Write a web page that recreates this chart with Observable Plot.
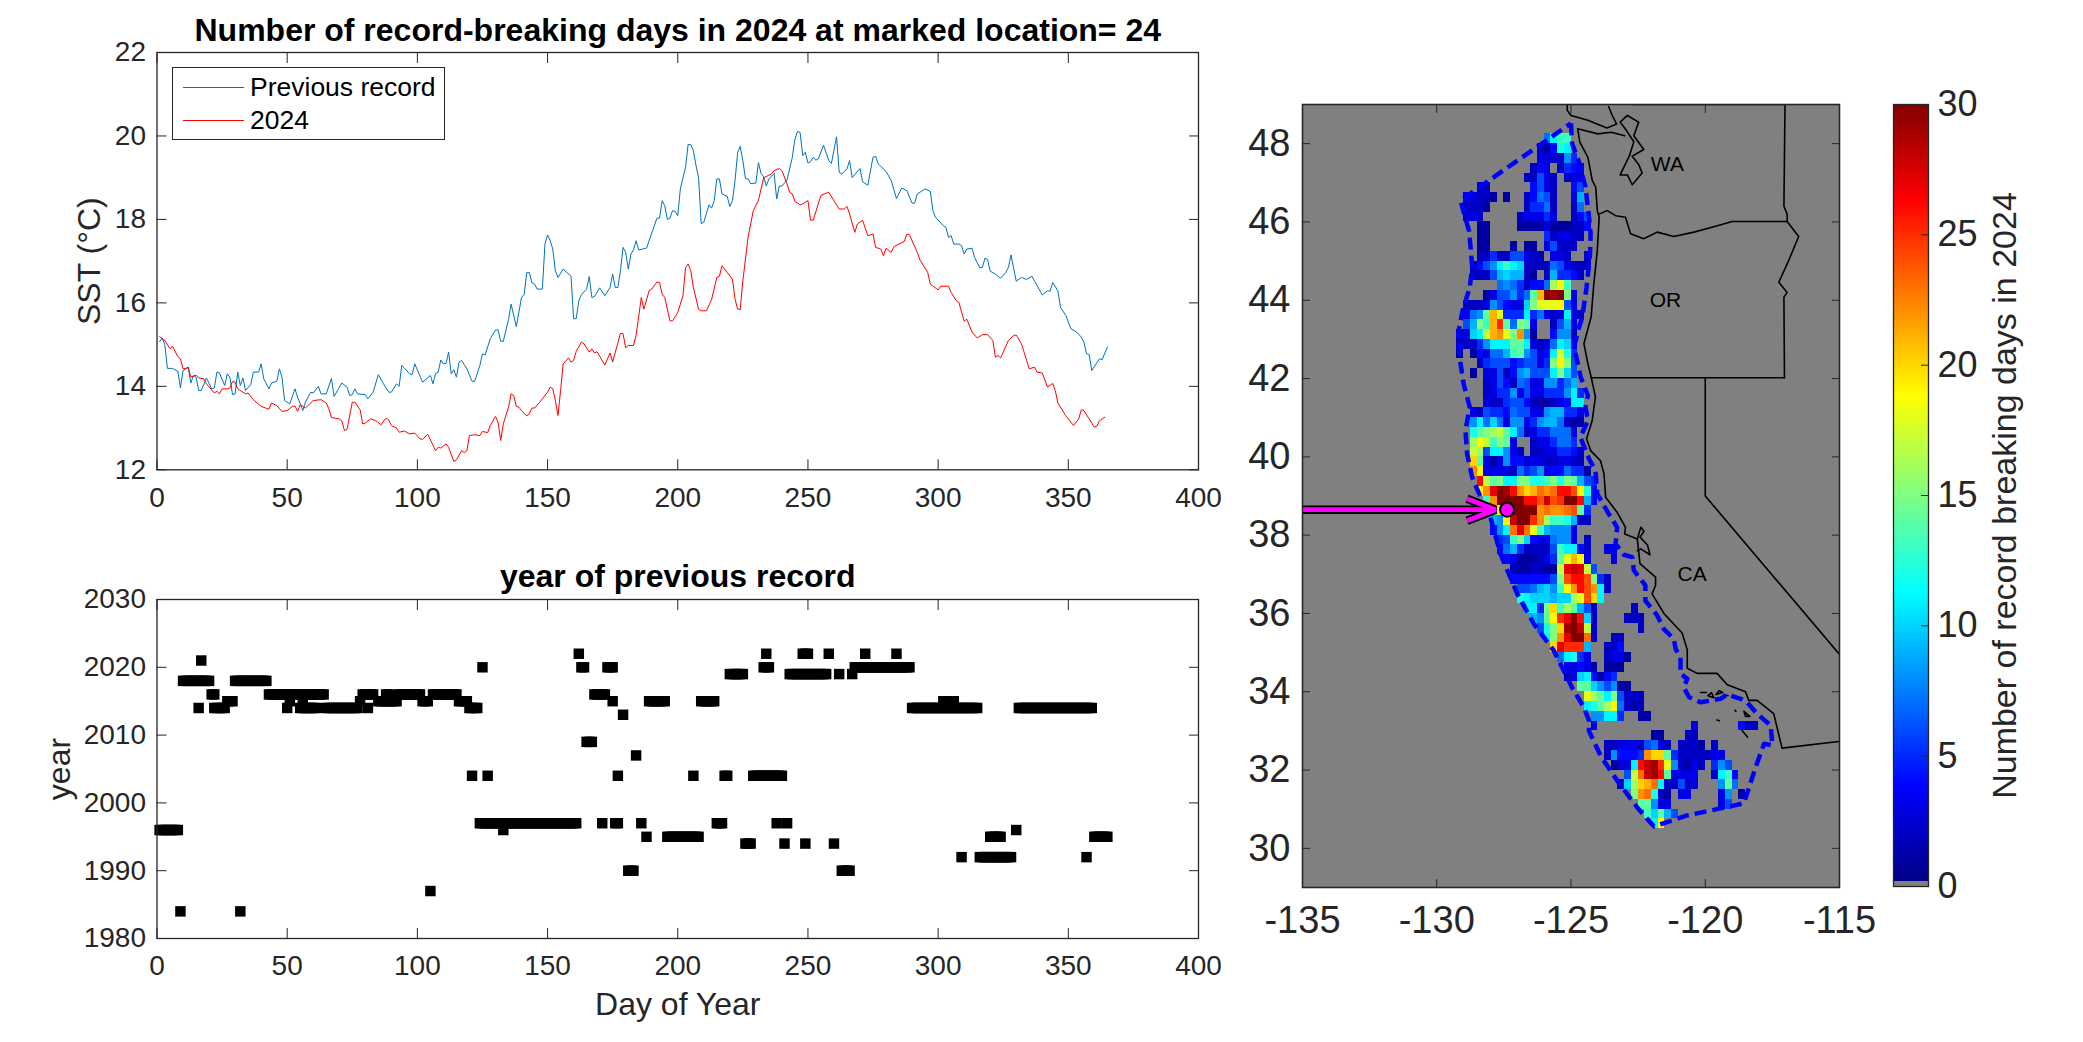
<!DOCTYPE html>
<html><head><meta charset="utf-8">
<script src="https://cdn.jsdelivr.net/npm/d3@7"></script>
<script src="https://cdn.jsdelivr.net/npm/@observablehq/plot@0.6"></script>
<style>
html,body{margin:0;padding:0;background:#fff;width:2083px;height:1042px;overflow:hidden;font-family:"Liberation Sans",sans-serif}
.p{position:absolute}
.p svg{overflow:visible;display:block}
#legend{position:absolute;left:172px;top:67px;width:271px;height:71px;border:1.3px solid #262626;background:#fff;font-size:26.5px;color:#000}
#legend .row{position:absolute;left:0;height:30px;line-height:30px}
#legend i{position:absolute;left:10px;width:61px;height:1px;top:15px}
#legend span{position:absolute;left:77px;white-space:nowrap}
</style></head><body>
<div id="top" class="p" style="left:0;top:0"></div>
<div id="bot" class="p" style="left:0;top:560px"></div>
<div id="map" class="p" style="left:1240px;top:70px"></div>
<div id="bar" class="p" style="left:1860px;top:90px"></div>
<div id="legend">
 <div class="row" style="top:4px"><i style="background:#0072bd"></i><span>Previous record</span></div>
 <div class="row" style="top:37px"><i style="background:#ff0000"></i><span>2024</span></div>
</div>
<script>
const titleTop="Number of record-breaking days in 2024 at marked location= 24";
const titleBot="year of previous record";
const barLabel="Number of record breaking days in 2024";

// [day, SST]
const previousRecord=[[1,15.07],[2,15.16],[3,15.0],[4,14.43],[6,14.43],[8,14.36],[9,13.96],[10,14.38],[12,14.45],[13,14.08],[14,14.26],[15,14.22],[16,13.9],[17,13.9],[19,14.2],[21,13.94],[22,13.96],[23,14.34],[24,14.32],[26,14.02],[27,14.3],[28,14.22],[29,13.8],[30,13.82],[31,14.34],[32,14.02],[33,14.2],[34,13.9],[36,14.04],[37,14.34],[39,14.34],[40,14.54],[41,14.18],[43,13.94],[44,14.08],[46,14.12],[47,14.42],[48,14.22],[49,13.66],[51,13.58],[53,13.94],[54,13.74],[56,13.42],[57,13.62],[59,13.86],[60,13.84],[62,14.0],[63,13.82],[65,13.82],[67,14.19],[68,13.76],[71,14.08],[73,13.98],[74,13.78],[75,13.8],[76,13.94],[77,13.82],[80,13.8],[81,13.7],[83,13.86],[85,14.28],[87,14.06],[89,13.86],[90,13.86],[92,14.06],[93,14.0],[94,14.5],[95,14.44],[97,14.3],[98,14.28],[99,14.54],[102,14.1],[105,14.26],[106,14.06],[107,14.31],[108,14.34],[109,14.63],[110,14.54],[111,14.55],[112,14.82],[113,14.3],[114,14.4],[115,14.22],[116,14.58],[117,14.62],[119,14.42],[121,14.12],[122,14.12],[124,14.5],[125,14.78],[126,14.75],[128,15.14],[130,15.35],[131,15.35],[132,15.08],[133,15.08],[135,15.6],[136,15.97],[138,15.43],[140,16.13],[141,16.2],[142,16.73],[143,16.73],[144,16.48],[145,16.45],[146,16.33],[148,16.33],[149,17.41],[150,17.63],[151,17.49],[152,17.29],[153,16.77],[154,16.61],[156,16.81],[159,16.64],[160,15.62],[161,15.62],[162,16.05],[163,16.2],[165,16.33],[166,16.63],[167,16.13],[168,16.15],[170,16.36],[172,16.17],[174,16.37],[175,16.69],[176,16.37],[177,16.37],[178,16.77],[179,17.33],[180,17.21],[181,16.81],[182,17.17],[183,17.27],[184,17.49],[185,17.27],[188,17.31],[192,18.03],[193,18.03],[194,18.45],[195,18.33],[196,18.0],[197,18.03],[198,18.21],[199,18.19],[200,18.09],[201,18.73],[203,19.25],[204,19.8],[205,19.79],[206,19.65],[207,19.3],[208,19.0],[209,17.9],[210,17.93],[212,18.35],[213,18.27],[214,18.45],[215,18.97],[216,18.97],[217,18.61],[219,18.55],[220,18.31],[221,18.45],[222,18.93],[223,19.6],[224,19.75],[225,19.41],[226,18.98],[227,18.97],[228,18.86],[230,18.87],[231,19.36],[232,19.1],[233,19.02],[234,18.8],[235,18.97],[237,19.1],[238,18.49],[239,18.8],[240,18.8],[242,18.95],[244,19.49],[245,19.92],[246,20.11],[247,20.08],[248,19.53],[249,19.61],[250,19.35],[251,19.38],[252,19.49],[253,19.42],[254,19.45],[256,19.78],[258,19.41],[259,19.34],[261,19.98],[262,19.13],[263,19.09],[265,19.21],[266,19.41],[267,19.0],[270,19.22],[271,18.9],[273,18.82],[275,19.49],[276,19.51],[277,19.33],[280,19.15],[282,18.93],[284,18.5],[286,18.75],[288,18.69],[290,18.39],[291,18.39],[292,18.61],[295,18.73],[297,18.67],[298,18.21],[299,18.05],[302,17.85],[303,17.81],[304,17.57],[305,17.61],[306,17.41],[308,17.41],[309,17.37],[310,17.17],[311,17.29],[313,17.31],[314,17.09],[316,16.84],[317,16.85],[318,17.07],[319,17.04],[320,16.76],[322,16.69],[324,16.59],[326,16.73],[327,16.85],[328,17.15],[330,16.52],[332,16.61],[334,16.56],[336,16.64],[340,16.19],[342,16.29],[343,16.28],[344,16.49],[346,16.29],[347,15.89],[349,15.7],[351,15.38],[353,15.31],[355,15.18],[356,15.06],[357,14.78],[358,14.76],[359,14.38],[362,14.66],[363,14.64],[365,14.94]];
const year2024=[[1,15.19],[3,15.1],[5,14.9],[6,14.96],[8,14.71],[9,14.66],[10,14.42],[11,14.43],[12,14.46],[13,14.22],[15,14.27],[16,14.2],[18,14.18],[19,14.06],[22,13.84],[23,13.88],[24,13.82],[25,13.94],[27,13.94],[28,13.96],[29,14.12],[30,14.1],[31,13.94],[34,13.82],[35,13.84],[37,13.68],[40,13.52],[43,13.45],[44,13.6],[46,13.54],[48,13.4],[50,13.42],[52,13.52],[53,13.53],[54,13.4],[55,13.56],[57,13.48],[60,13.66],[63,13.68],[65,13.6],[66,13.46],[67,13.25],[70,13.22],[71,13.17],[72,12.94],[73,12.97],[75,13.62],[76,13.62],[78,13.44],[79,13.1],[80,13.12],[82,13.22],[84,13.18],[86,13.08],[88,13.24],[89,13.2],[90,13.06],[92,13.0],[93,12.9],[95,12.93],[97,12.86],[99,12.88],[101,12.74],[102,12.73],[104,12.85],[107,12.46],[108,12.54],[109,12.52],[111,12.62],[112,12.54],[114,12.2],[115,12.24],[117,12.46],[118,12.41],[119,12.46],[120,12.82],[122,12.84],[124,12.82],[125,12.92],[127,12.89],[128,13.06],[130,13.28],[131,13.14],[132,12.7],[133,13.1],[135,13.5],[136,13.82],[137,13.78],[138,13.52],[139,13.5],[140,13.42],[142,13.29],[143,13.34],[144,13.48],[145,13.48],[147,13.62],[150,13.86],[151,13.98],[152,13.94],[153,13.66],[154,13.3],[155,13.9],[156,14.54],[158,14.68],[159,14.58],[160,14.62],[161,14.84],[163,15.06],[164,15.02],[166,14.82],[167,14.9],[168,14.8],[169,14.83],[172,14.51],[174,14.8],[175,14.58],[178,15.27],[179,15.26],[180,14.92],[181,14.98],[183,14.98],[184,15.22],[186,16.13],[187,15.85],[189,16.29],[190,16.33],[192,16.5],[193,16.49],[194,16.21],[195,16.13],[197,15.57],[198,15.57],[200,15.77],[202,16.17],[203,16.85],[204,16.93],[205,16.77],[206,16.37],[208,15.85],[209,15.81],[211,15.81],[213,16.08],[215,16.61],[216,16.64],[217,16.89],[219,16.73],[221,16.57],[222,16.09],[223,15.85],[224,15.84],[225,16.53],[227,17.57],[229,18.21],[231,18.46],[233,19.0],[235,19.06],[236,19.09],[237,19.17],[239,19.22],[240,19.17],[242,18.85],[243,18.65],[244,18.61],[245,18.43],[247,18.35],[248,18.37],[250,18.45],[251,17.98],[252,17.98],[255,18.58],[258,18.65],[260,18.45],[262,18.25],[264,18.25],[265,18.31],[266,18.13],[268,17.69],[269,17.89],[271,17.98],[273,17.61],[275,17.65],[276,17.33],[278,17.29],[279,17.13],[280,17.31],[282,17.21],[283,17.35],[287,17.47],[288,17.65],[289,17.63],[292,17.21],[293,17.03],[296,16.73],[297,16.45],[300,16.31],[301,16.4],[304,16.4],[305,16.25],[307,16.05],[308,16.01],[310,15.56],[311,15.61],[313,15.3],[315,15.16],[317,15.24],[319,15.24],[321,15.1],[322,14.7],[323,14.74],[324,14.68],[327,15.1],[329,15.22],[330,15.23],[332,15.02],[334,14.62],[335,14.42],[337,14.46],[338,14.34],[340,14.32],[342,13.98],[344,14.07],[345,13.9],[346,13.6],[349,13.3],[352,13.06],[354,13.22],[355,13.44],[356,13.42],[358,13.22],[360,13.02],[361,13.05],[362,13.18],[364,13.26]];

// [year, first day, last day] runs of the previous-record year
const recordRuns=[[2022,162,162],[2022,234,234],[2022,248,250],[2022,258,258],[2022,272,272],[2022,284,284],[2021,17,17],[2020,125,125],[2020,163,164],[2020,173,175],[2020,233,235],[2020,268,289],[2019,220,225],[2019,243,257],[2019,262,262],[2019,267,267],[2018,10,20],[2018,30,42],[2016,21,22],[2016,43,54],[2016,57,64],[2016,79,83],[2016,88,89],[2016,93,101],[2016,106,115],[2016,168,172],[2015,27,29],[2015,51,51],[2015,56,56],[2015,78,78],[2015,85,92],[2015,102,104],[2015,116,119],[2015,175,175],[2015,189,195],[2015,209,214],[2015,302,306],[2014,16,16],[2014,22,26],[2014,50,50],[2014,55,61],[2014,65,77],[2014,81,81],[2014,120,123],[2014,290,315],[2014,331,359],[2013,179,179],[2009,165,167],[2007,184,184],[2004,121,121],[2004,127,127],[2004,177,177],[2004,206,206],[2004,218,219],[2004,229,240],[1997,124,161],[1997,171,171],[1997,176,177],[1997,186,186],[1997,215,217],[1997,238,238],[1997,242,242],[1996,1,8],[1996,133,133],[1996,330,330],[1995,188,188],[1995,196,208],[1995,320,324],[1995,360,365],[1994,226,228],[1994,241,241],[1994,249,249],[1994,260,260],[1992,309,309],[1992,316,328],[1992,357,357],[1990,181,183],[1990,263,266],[1987,105,105],[1984,9,9],[1984,32,32]];

// [north edge lat, first cell lon, days per 0.25 deg cell (0 = no cell)]
const heatRows=[
[48.25,-126,[7,11,13,13]],
[48,-126.25,[2,1,4,12,11]],
[47.75,-126.25,[3,3,2,2,8,5]],
[47.5,-126.5,[2,4,3,0,2,5,4,3]],
[47.25,-126.75,[2,2,6,3,2,0,2,3,3]],
[47,-128.5,[2,2]],[47,-126.5,[4,6,3,2,0,0,4,6]],
[46.75,-129,[3,3,2,2,1,0,1]],[46.75,-126.75,[2,4,7,6,2,0,0,3,9]],
[46.5,-129,[2,2,2,1]],[46.5,-126.75,[2,5,5,7,2,0,0,2,7]],
[46.25,-129,[2,3,2]],[46.25,-127,[2,3,3,3,5,3,0,0,2,4,6]],
[46,-128.5,[1,1]],[46,-127,[1,1,1,1,3,1,1,1,2,2,4]],
[45.75,-128.5,[1,1]],[45.75,-126,[5,2,3,3,2,2]],
[45.5,-128.5,[1,1]],[45.5,-127.25,[1]],[45.5,-126.75,[1,1]],[45.5,-126,[3,6,2,2,2]],
[45.25,-128.5,[2,2,5,2,2,6,6,3,2,2,0,3,3,2]],[45.25,-124.5,[2]],
[45,-128.75,[2,4,6,8,11,13,11,10,2,2,2,2,7,6,3,2,2,2]],
[44.75,-128.75,[2,2,2,6,9,10,9,9,2,1,0,2,9,5,5,4,2]],
[44.5,-127.75,[7,8,7,5,2,4,4,7,16,19,13]],
[44.25,-128.25,[1,3,6,6,8,5,7,14,21,30,29,30,15,3]],
[44,-129,[2,2,2,3,8,6,4,3,3,10,15,18,18,18,19,6,3]],
[43.75,-129,[3,7,8,14,21,18,5,5,5,11,5,7,3,2,3,11,3,2]],
[43.5,-129,[6,9,15,13,21,25,14,7,15,14,3,0,0,2,6,9,3]],
[43.25,-129.25,[2,3,10,11,17,21,22,18,15,22,8,1,0,0,4,8,8,2]],
[43,-129.25,[2,2,2,5,8,11,11,11,14,14,11,3,2,3,7,11,10,3]],
[42.75,-129.25,[1,0,1,4,3,7,7,9,13,14,8,6,3,4,11,18,12,5]],
[42.5,-128.5,[2,5,6,6,6,4,5,6,6,3,5,15,19,15,6]],
[42.25,-128.75,[1,0,3,3,6,2,4,8,9,6,6,6,11,15,10,6]],
[42,-128.25,[2,3,6,4,2,7,6,3,3,8,8,5,7,9]],
[41.75,-128.25,[2,3,5,5,8,3,6,3,3,5,5,5,8,11,5]],
[41.5,-128.25,[3,2,2,5,6,6,4,2,1,1,2,3,4,11,11]],
[41.25,-128.75,[3,2,6,5,5,4,7,6,6,3,3,8,9,9,5,5,3]],
[41,-128.75,[8,11,7,10,7,3,8,8,3,5,8,9,9,7,2,1,1]],
[40.75,-128.75,[12,14,15,16,17,14,11,7,2,3,5,5,7,7,7,3]],
[40.5,-128.75,[16,19,17,13,15,14,3,0,0,2,3,3,5,7,7,5]],
[40.25,-128.75,[17,16,6,11,11,8,3,2,0,2,2,3,3,5,5,4,2]],
[40,-128.75,[20,14,3,1,3,8,4,4,3,3,3,2,2,3,3,2,2]],
[39.75,-128.75,[22,19,3,3,3,3,2,7,5,6,8,3,4,4,7,5,5,1]],
[39.5,-128.5,[26,17,14,15,11,11,15,15,12,12,13,15,12,15,14,9,6,5]],
[39.25,-128.5,[19,22,27,30,29,26,22,20,21,23,22,23,26,26,24,19,12,4]],
[39,-128.25,[13,22,30,30,30,30,26,26,24,28,24,25,30,30,26,9,4]],
[38.75,-128,[14,19,30,30,30,30,30,22,23,22,22,23,24,14,5]],
[38.5,-128,[9,8,19,28,30,30,25,22,16,13,13,12,9,2,2]],
[38.25,-128,[4,8,11,23,27,23,18,13,9,8,8,8,3]],
[38,-127.75,[5,6,13,15,10,4,3,3,7,8,8,3,0,2]],
[37.75,-127.75,[4,7,9,5,2,2,2,2,6,13,11,11,4,2]],[37.75,-123.75,[3,3]],
[37.5,-127.5,[4,3,1,1,1,2,3,5,14,18,21,19,3]],[37.5,-123.5,[3]],
[37.25,-127.25,[2,1,1,2,2,1,1,17,27,28,27,17,6]],
[37,-127.25,[4,4,4,4,4,4,6,15,24,26,26,24,15,5,2]],
[36.75,-127,[6,6,7,9,10,8,13,19,22,26,24,22,11,2]],
[36.5,-127,[12,11,10,10,10,9,10,10,16,18,24,20,11]],
[36.25,-126.75,[11,11,5,15,20,13,16,14,9,6,2]],[36.25,-122.75,[2]],
[36,-126.5,[9,8,14,19,25,27,30,26,10,2]],[36,-123,[2,2,2]],
[35.75,-126.25,[6,12,15,20,29,30,28,17,2]],[35.75,-122.5,[2]],
[35.5,-126,[11,15,22,27,30,30,23,2]],[35.5,-123.5,[2,2]],
[35.25,-125.75,[20,27,25,25,25,9]],[35.25,-123.75,[2,2,4]],
[35,-125.5,[7,11,12,5,3]],[35,-123.75,[2,3,3,1]],
[34.75,-125.25,[3,3,4,3,1]],[34.75,-123.75,[1,1,1]],
[34.5,-125.25,[2,3,10,11,4,1,4,5]],
[34.25,-124.75,[14,14,10,8,6,8,1,1]],
[34,-124.5,[18,16,14,11,15,6,2,2,2]],
[33.75,-124.5,[11,12,14,16,19,7,2,1,2]],
[33.5,-124.25,[8,8,11,11,5,0,0,1,1]],
[33.25,-124.25,[3]],[33.25,-120.5,[3]],[33.25,-118.75,[4,2,2]],
[33,-122,[1,1]],[33,-120.75,[2,2]],
[32.75,-123.75,[2,2,3,3,3,2,6,7,3,2,0,2,2,2,1,0,2]],
[32.5,-123.75,[2,8,4,4,4,5,22,20,20,14,5,2,2,2,2,2,3,3]],
[32.25,-123.5,[1,2,3,11,26,28,29,25,18,8,2,1,3,2,0,5,8,6]],
[32,-123,[6,17,23,28,29,26,14,3,3,3,3,0,0,2,11,13,4]],
[31.75,-123.25,[2,10,16,20,21,23,11,2,2,6,2,3,0,0,0,8,14,7]],
[31.5,-122.75,[15,22,23,12,2,1,0,3,3,0,0,0,0,3,8,0,1]],
[31.25,-122.5,[14,14,8,3,3]],[31.25,-119.5,[3,6]],
[31,-122.25,[13,10,14,9,6]],
[30.75,-122,[11,19]]
];

const boundary=[[-125.0,48.52],[-124.96,48.0],[-124.7,47.53],[-124.46,46.89],[-124.33,46.12],[-124.27,45.7],[-124.29,45.19],[-124.42,44.33],[-124.58,43.57],[-124.7,43.31],[-124.89,42.8],[-124.77,42.46],[-124.64,42.04],[-124.37,41.56],[-124.46,41.27],[-124.37,40.93],[-124.65,40.5],[-124.33,39.95],[-124.09,39.65],[-124.02,39.05],[-123.59,38.54],[-123.28,38.2],[-123.34,37.78],[-123.03,37.5],[-122.72,37.44],[-122.66,37.1],[-122.23,36.72],[-122.23,36.33],[-121.79,35.95],[-121.54,35.6],[-121.17,35.35],[-121.1,35.09],[-120.92,34.88],[-120.92,34.46],[-120.67,34.33],[-120.8,34.11],[-120.6,33.86],[-120.17,33.73],[-119.43,33.82],[-119.18,33.93],[-118.68,33.82],[-118.44,33.73],[-118.07,33.44],[-117.56,33.14],[-117.5,32.63],[-117.81,32.67],[-118.12,32.08],[-118.56,31.15],[-120.67,30.84],[-121.91,30.56],[-122.54,31.05],[-123.28,31.73],[-123.9,32.37],[-124.33,33.0],[-124.33,33.27],[-124.52,33.6],[-124.96,34.11],[-125.64,35.05],[-126.38,35.73],[-127.0,36.5],[-127.63,37.52],[-128.0,38.46],[-128.37,38.97],[-128.68,39.48],[-128.87,40.08],[-128.93,40.67],[-128.77,41.27],[-129.0,41.87],[-129.15,42.55],[-129.2,43.14],[-129.05,43.7],[-128.77,44.33],[-128.68,44.85],[-128.74,45.36],[-128.8,45.78],[-129.12,46.55],[-125.0,48.52]];

const coast=[[-124.75,48.38],[-124.67,48.04],[-124.37,47.65],[-124.21,47.06],[-124.08,46.89],[-124.02,46.29],[-123.95,46.12],[-124.02,45.27],[-124.15,44.42],[-124.25,43.57],[-124.52,42.89],[-124.37,42.38],[-124.25,42.04],[-124.09,41.53],[-124.21,40.93],[-124.42,40.46],[-124.27,40.16],[-123.9,39.9],[-123.77,39.56],[-123.71,38.97],[-123.28,38.58],[-122.97,38.2],[-123.0,38.03],[-122.53,37.9],[-122.43,37.27],[-121.85,36.93],[-121.85,36.72],[-121.98,36.5],[-121.54,36.0],[-120.86,35.5],[-120.67,35.07],[-120.67,34.6],[-120.3,34.47],[-119.56,34.47],[-119.18,34.18],[-118.5,34.0],[-118.38,33.78],[-118.07,33.78],[-117.45,33.44],[-117.27,32.93],[-117.14,32.56],[-115.03,32.73]];
const strait=[[-124.75,48.38],[-124.0,48.25],[-123.5,48.29],[-123.0,48.2]];
const puget=[[-122.9,48.72],[-122.48,48.55],[-122.66,48.2],[-122.29,47.85],[-122.72,47.68],[-122.48,47.47],[-122.35,47.25],[-122.72,46.95],[-122.9,47.2],[-123.17,47.2],[-122.83,47.68],[-122.66,48.05],[-123.0,48.4],[-123.17,48.55],[-122.9,48.72]];
const vancouver=[[-125.14,49.0],[-125.14,48.85],[-125.0,48.72],[-124.37,48.6],[-123.66,48.4],[-123.3,48.5],[-123.45,48.7],[-123.6,48.95]];
const canadaLine=[[-122.7,49],[-117.03,49]];
const waEast=[[-117.03,49],[-117.07,46.4],[-116.95,46.2],[-116.95,46.01]];
const columbia=[[-123.95,46.2],[-123.65,46.29],[-123.34,46.16],[-122.97,46.12],[-122.78,45.7],[-122.29,45.57],[-121.79,45.74],[-121.17,45.63],[-120.42,45.74],[-119.68,45.88],[-119.0,46.01],[-116.95,46.01]];
const snake=[[-116.95,46.01],[-116.52,45.63],[-116.89,45.02],[-117.26,44.46],[-116.95,44.2],[-117.07,44.08],[-117.05,42.02]];
const orCa=[[-124.25,42.02],[-117.05,42.02]];
const caNv=[[-120,42.02],[-120,39.0],[-115.03,34.98]];
const bay=[[-122.53,37.9],[-122.4,38.2],[-122.28,38.1],[-122.43,37.95],[-122.15,37.75],[-122.06,37.5],[-122.4,37.65],[-122.53,37.6]];
const islands=[[[-120.17,33.98],[-119.96,33.98]],[[-119.9,33.9],[-119.68,33.85],[-119.77,33.98],[-119.9,33.9]],[[-119.6,33.93],[-119.35,33.98],[-119.48,34.03],[-119.6,33.93]],[[-119.3,33.93],[-119.15,33.9]],[[-118.56,33.5],[-118.34,33.37],[-118.5,33.37],[-118.56,33.5]],[[-119.56,33.28],[-119.47,33.26]],[[-118.63,33.01],[-118.42,32.84]],[[-118.89,33.53],[-118.86,33.5]]];

const stateNames=["WA","OR","CA"];
const stateLon=[-121.41,-121.48,-120.49];
const stateLat=[47.48,44.0,37.0];
const siteLon=-127.38, siteLat=38.65;
const arrowShaft=[[-135,38.65],[-127.81,38.65]];
const arrowHead=[[-128.87,38.93],[-127.81,38.65],[-128.87,38.37]];

const dayTicks=[0,50,100,150,200,250,300,350,400];
const sstTicks=[12,14,16,18,20,22];
const yearTicks=[1980,1990,2000,2010,2020,2030];
const lonTicks=[-135,-130,-125,-120,-115];
const latTicks=[30,32,34,36,38,40,42,44,46,48];
const barTicks=[0,5,10,15,20,25,30];
const jetStops=[0,0.125,0.375,0.625,0.875,1];
const jetColors=["#000080","#0000ff","#00ffff","#ffff00","#ff0000","#800000"];

const INK="#262626";
const FONT='"Liberation Sans",sans-serif';
const jet=d3.scaleLinear().domain(jetStops).range(jetColors).interpolate(d3.interpolateRgb).clamp(true);
const fmt=d=>String(d);

function box(xTicks,yTicks,tick,size,xPad,yPad){
  return [
    Plot.frame({stroke:INK,strokeWidth:1.3}),
    Plot.axisX(xTicks,{anchor:"bottom",tickSize:-tick,fill:"none",label:null,stroke:INK}),
    Plot.axisX(xTicks,{anchor:"top",tickSize:-tick,fill:"none",label:null,stroke:INK}),
    Plot.axisY(yTicks,{anchor:"left",tickSize:-tick,fill:"none",label:null,stroke:INK}),
    Plot.axisY(yTicks,{anchor:"right",tickSize:-tick,fill:"none",label:null,stroke:INK}),
    Plot.axisX(xTicks,{anchor:"bottom",tickSize:0,tickPadding:xPad,label:null,tickFormat:fmt,fontSize:size,fill:INK}),
    Plot.axisY(yTicks,{anchor:"left",tickSize:0,tickPadding:yPad,label:null,tickFormat:fmt,fontSize:size,fill:INK})
  ];
}
const st={background:"transparent",fontFamily:FONT,color:INK,overflow:"visible"};
const lineEnd={strokeLinecap:"butt",strokeLinejoin:"miter"};

document.getElementById("top").append(Plot.plot({
  width:1260,height:540,marginLeft:156.5,marginRight:62,marginTop:52,marginBottom:70.7,style:st,
  x:{domain:[0,400],label:null},y:{domain:[12,22],label:null},
  marks:[
    Plot.line(previousRecord,{x:d=>d[0],y:d=>d[1],stroke:"#0072bd",strokeWidth:1}),
    Plot.line(year2024,{x:d=>d[0],y:d=>d[1],stroke:"#ff0000",strokeWidth:1}),
    ...box(dayTicks,sstTicks,10,28,17,11),
    Plot.text([titleTop],{frameAnchor:"top",dy:-22,lineAnchor:"middle",fontWeight:"bold",fontSize:32,fill:"#000"}),
    Plot.text(["SST (°C)"],{frameAnchor:"left",dx:-67,rotate:-90,fontSize:32,fill:INK,textAnchor:"middle"})
  ]}));

const recordPoints=recordRuns.flatMap(([year,a,b])=>d3.range(a,b+1).map(day=>({day,year})));
document.getElementById("bot").append(Plot.plot({
  width:1260,height:482,marginLeft:156.5,marginRight:62,marginTop:39,marginBottom:104,style:st,
  x:{domain:[0,400],label:null},y:{domain:[1980,2030],label:null},
  marks:[
    Plot.dot(recordPoints,{x:"day",y:"year",symbol:"square",r:5.9,fill:"#000",stroke:"none"}),
    ...box(dayTicks,yearTicks,10,28,17,11),
    Plot.text([titleBot],{frameAnchor:"top",dy:-23,lineAnchor:"middle",fontWeight:"bold",fontSize:32,fill:"#000"}),
    Plot.text(["year"],{frameAnchor:"left",dx:-97,rotate:-90,fontSize:32,fill:INK,textAnchor:"middle"}),
    Plot.text(["Day of Year"],{frameAnchor:"bottom",dy:66,lineAnchor:"middle",fontSize:32,fill:INK})
  ]}));

const cells=heatRows.flatMap(([lat,lon,vals])=>vals.map((v,i)=>({lon:lon+i*0.25,lat,v})).filter(d=>d.v>0));
const thin=a=>Plot.line(a,{x:d=>d[0],y:d=>d[1],stroke:"#000",strokeWidth:1.6,clip:true});
document.getElementById("map").append(Plot.plot({
  width:620,height:890,marginLeft:62,marginRight:21,marginTop:34,marginBottom:73,style:st,
  x:{domain:[-135,-115],label:null},y:{domain:[29,49],label:null},
  color:{type:"linear",domain:[0,30],interpolate:t=>jet(t)},
  marks:[
    Plot.frame({fill:"#808080",stroke:"none"}),
    Plot.rect(cells,{x1:"lon",x2:d=>d.lon+0.25,y1:"lat",y2:d=>d.lat-0.25,fill:"v",shapeRendering:"crispEdges",inset:0}),
    thin(coast),thin(strait),thin(puget),thin(vancouver),thin(canadaLine),thin(waEast),thin(columbia),thin(snake),thin(orCa),thin(caNv),thin(bay),
    ...islands.map(thin),
    Plot.line(boundary,{x:d=>d[0],y:d=>d[1],stroke:"#0000ff",strokeWidth:4.5,strokeDasharray:"12 6",strokeLinecap:"butt"}),
    Plot.text(stateNames,{x:(d,i)=>stateLon[i],y:(d,i)=>stateLat[i],text:d=>d,fontSize:21,fill:"#000"}),
    Plot.line(arrowShaft,{x:d=>d[0],y:d=>d[1],stroke:"#000",strokeWidth:8.5,...lineEnd}),
    Plot.line(arrowHead,{x:d=>d[0],y:d=>d[1],stroke:"#000",strokeWidth:8.5,...lineEnd}),
    Plot.line(arrowShaft,{x:d=>d[0],y:d=>d[1],stroke:"#ff00ff",strokeWidth:4.8,...lineEnd}),
    Plot.line(arrowHead,{x:d=>d[0],y:d=>d[1],stroke:"#ff00ff",strokeWidth:4.8,...lineEnd}),
    Plot.dot([[siteLon,siteLat]],{x:d=>d[0],y:d=>d[1],r:7,fill:"#ff00ff",stroke:"#000",strokeWidth:2}),
    Plot.frame({stroke:INK,strokeWidth:1.3}),
    ...box(lonTicks,latTicks,8,38,19,12)
  ]}));

const barLevels=d3.range(0.2,30,0.1);
document.getElementById("bar").append(Plot.plot({
  width:223,height:850,marginLeft:33,marginRight:155,marginTop:14,marginBottom:54,style:st,
  x:{domain:[0,1],axis:null},y:{domain:[0,30],axis:null},
  color:{type:"linear",domain:[0,30],interpolate:t=>jet(t)},
  marks:[
    Plot.frame({fill:"#808080",stroke:"none"}),
    Plot.rect(barLevels,{x1:0,x2:1,y1:d=>d,y2:d=>d+0.1,fill:d=>d,shapeRendering:"crispEdges"}),
    Plot.frame({stroke:INK,strokeWidth:1.3}),
    Plot.axisY(barTicks,{anchor:"right",tickSize:-8,fill:"none",label:null,stroke:INK}),
    Plot.axisY(barTicks,{anchor:"right",tickSize:0,tickPadding:9,label:null,tickFormat:fmt,fontSize:36,fill:INK}),
    Plot.text([barLabel],{frameAnchor:"right",dx:77,rotate:-90,fontSize:34,fill:INK,textAnchor:"middle"})
  ]}));
</script>
</body></html>
